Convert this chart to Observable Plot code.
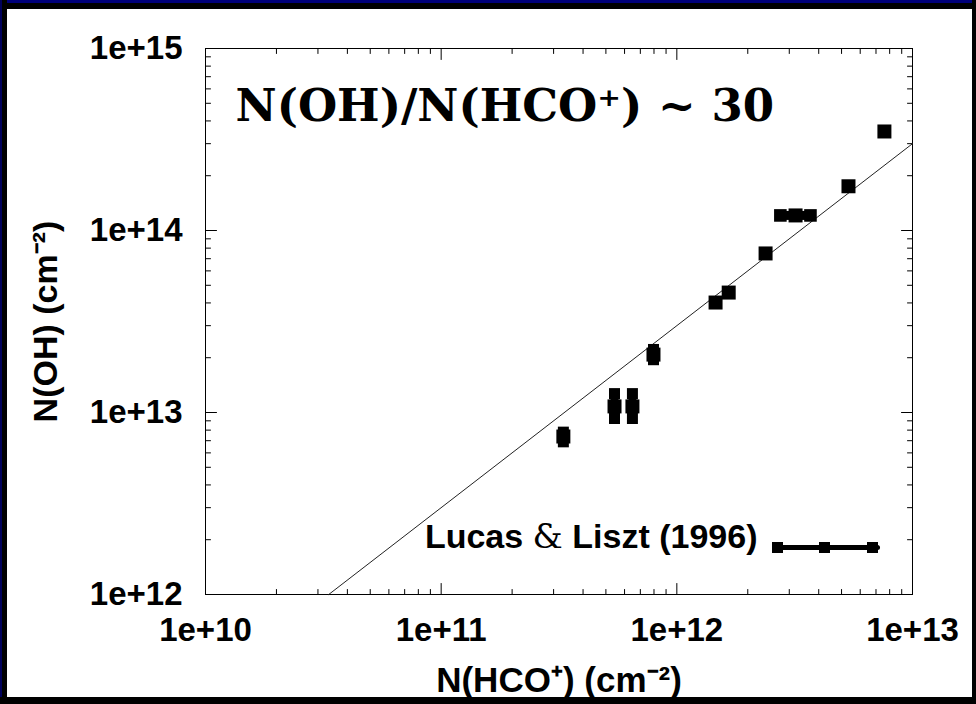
<!DOCTYPE html>
<html><head><meta charset="utf-8">
<script src="https://cdn.jsdelivr.net/npm/d3@7"></script>
<script src="https://cdn.jsdelivr.net/npm/@observablehq/plot@0.6"></script>
<style>
html,body{margin:0;padding:0;background:#000;}
#wrap{position:relative;width:976px;height:704px;background:#fff;overflow:hidden;}
#chart{position:absolute;left:0;top:0;}
.b{position:absolute;}
</style></head><body>
<div id="wrap"><div id="chart"></div>
<div class="b" style="left:0;top:0;width:976px;height:9px;background:#000"></div>
<div class="b" style="left:0;top:0;width:976px;height:3px;background:#00007a"></div>
<div class="b" style="left:0;top:0;width:7px;height:704px;background:#000"></div>
<div class="b" style="left:0;top:0;width:2px;height:704px;background:#00005a"></div>
<div class="b" style="left:972px;top:0;width:4px;height:704px;background:#000"></div>
<div class="b" style="left:0;top:697px;width:976px;height:7px;background:#000"></div>
</div>
<script>
// ---- data ----
const xTickValues = [1e10, 1e11, 1e12, 1e13];
const xTickLabels = ["1e+10", "1e+11", "1e+12", "1e+13"];
const yTickValues = [1e12, 1e13, 1e14, 1e15];
const yTickLabels = ["1e+12", "1e+13", "1e+14", "1e+15"];

// N(HCO+) and N(OH) column densities (cm^-2)
const hco = [3.3e11, 5.44e11, 6.48e11, 7.96e11, 1.46e12, 1.66e12, 2.38e12, 3.19e12, 5.35e12, 7.6e12];
const oh  = [7.38e12, 1.08e13, 1.08e13, 2.08e13, 4.02e13, 4.56e13, 7.48e13, 1.21e14, 1.75e14, 3.5e14];

// vertical error bars
const yErrX  = [3.3e11, 5.44e11, 6.48e11, 7.96e11];
const yErrLo = [6.9e12, 9.27e12, 9.27e12, 1.95e13];
const yErrHi = [7.8e12, 1.27e13, 1.27e13, 2.22e13];
// horizontal error bars
const xErrY  = [1.21e14];
const xErrLo = [2.75e12];
const xErrHi = [3.69e12];

const ratio = 30;
const fitX = [1e12 / ratio, 1e13];

const titleText = "N(OH)/N(HCO\u207A) ~ 30";
const xLabel = "N(HCO\u207A) (cm\u207B\u00B2)";
const yLabel = "N(OH) (cm\u207B\u00B2)";
const legendLabel = "Lucas & Liszt (1996)";

// ---- derived tables ----
const points = hco.map((x, i) => ({x, y: oh[i]}));
const yErr = yErrX.map((x, i) => ({x, lo: yErrLo[i], hi: yErrHi[i]}));
const xErr = xErrY.map((y, i) => ({y, lo: xErrLo[i], hi: xErrHi[i]}));
const fit = fitX.map(x => ({x, y: x * ratio}));
const minorOf = (majors) => majors.slice(0, -1).flatMap(m => [2,3,4,5,6,7,8,9].map(k => k * m));
const xMinor = minorOf(xTickValues);
const yMinor = minorOf(yTickValues);
const yMin = yTickValues[0], yMax = yTickValues[yTickValues.length - 1];
const xMin = xTickValues[0], xMax = xTickValues[xTickValues.length - 1];

const tickShape = {draw(ctx, l) { ctx.moveTo(0, 0); ctx.lineTo(0, -l); }};
const tk = (data, xf, yf, rot, len) => Plot.vector(data, {x: xf, y: yf, rotate: rot, length: len, anchor: "start", shape: tickShape, stroke: "black", strokeWidth: 1});

const capR = 11 / Math.sqrt(Math.PI);
const ptR = 14 / Math.sqrt(Math.PI);

const plot = Plot.plot({
  width: 976, height: 704,
  marginLeft: 205, marginRight: 64, marginTop: 48, marginBottom: 110,
  x: {type: "log", domain: [xMin, xMax]},
  y: {type: "log", domain: [yMin, yMax]},
  style: {background: "transparent", fontFamily: "Liberation Sans, Arial, sans-serif", fontWeight: "bold", color: "black"},
  marks: [
    Plot.frame({stroke: "black", strokeWidth: 1}),
    // tick marks (inward, mirrored)
    tk(xTickValues, d => d, () => yMin, 0, 11),
    tk(xTickValues, d => d, () => yMax, 180, 11),
    tk(xMinor, d => d, () => yMin, 0, 5),
    tk(xMinor, d => d, () => yMax, 180, 5),
    tk(yTickValues, () => xMin, d => d, 90, 11),
    tk(yTickValues, () => xMax, d => d, -90, 11),
    tk(yMinor, () => xMin, d => d, 90, 5),
    tk(yMinor, () => xMax, d => d, -90, 5),
    Plot.axisX({ticks: xTickValues, tickFormat: d => xTickLabels[xTickValues.indexOf(d)], tickSize: 0, tickPadding: 23, fontSize: 33, label: null}),
    Plot.axisY({ticks: yTickValues, tickFormat: d => yTickLabels[yTickValues.indexOf(d)], tickSize: 0, tickPadding: 23, fontSize: 33, label: null}),
    // fit line
    Plot.line(fit, {x: "x", y: "y", stroke: "#222", strokeWidth: 1}),
    // error bars
    Plot.ruleX(yErr, {x: "x", y1: "lo", y2: "hi", stroke: "black", strokeWidth: 8}),
    Plot.dot(yErr, {x: "x", y: "lo", symbol: "square", r: capR, fill: "black"}),
    Plot.dot(yErr, {x: "x", y: "hi", symbol: "square", r: capR, fill: "black"}),
    Plot.ruleY(xErr, {y: "y", x1: "lo", x2: "hi", stroke: "black", strokeWidth: 9}),
    Plot.dot(xErr, {x: "lo", y: "y", symbol: "square", r: ptR * 0.9, fill: "black"}),
    Plot.dot(xErr, {x: "hi", y: "y", symbol: "square", r: ptR * 0.9, fill: "black"}),
    // points
    Plot.dot(points, {x: "x", y: "y", symbol: "square", r: ptR, fill: "black"}),
    // title
    Plot.text([titleText], {frameAnchor: "top-left", dx: 30, dy: 72, lineAnchor: "bottom", textAnchor: "start",
      fontFamily: "DejaVu Serif", fontWeight: "bold", fontSize: 45, fill: "black"}),
    // axis labels
    Plot.text([xLabel], {frameAnchor: "bottom", dy: 97, lineAnchor: "bottom", fontSize: 35, fill: "black"}),
    Plot.text([yLabel], {frameAnchor: "left", dx: -159, rotate: -90, textAnchor: "middle", fontSize: 34, fill: "black"}),
    // legend
    Plot.text([legendLabel], {frameAnchor: "bottom-right", dx: -155, dy: -47, textAnchor: "end", fontSize: 34, fill: "black", className: "lg"}),
    Plot.vector([0], {frameAnchor: "bottom-right", dx: -137, dy: -47, rotate: 90, length: 102, anchor: "start", shape: tickShape, stroke: "black", strokeWidth: 5}),
    Plot.dot([0], {frameAnchor: "bottom-right", dx: -135, dy: -47, symbol: "square", r: capR, fill: "black"}),
    Plot.dot([0], {frameAnchor: "bottom-right", dx: -88, dy: -47, symbol: "square", r: capR, fill: "black"}),
    Plot.dot([0], {frameAnchor: "bottom-right", dx: -40, dy: -47, symbol: "square", r: capR, fill: "black"})
  ]
});

// mixed fonts in legend label (serif ampersand)
const lt = d3.select(plot).select("g.lg text");
if (!lt.empty()) {
  const parts = legendLabel.split("&");
  lt.text(null);
  lt.append("tspan").text(parts[0]);
  lt.append("tspan").attr("font-family", "DejaVu Serif").attr("font-weight", "normal").text("&");
  lt.append("tspan").text(parts[1]);
}
document.getElementById("chart").appendChild(plot);
</script>
</body></html>
